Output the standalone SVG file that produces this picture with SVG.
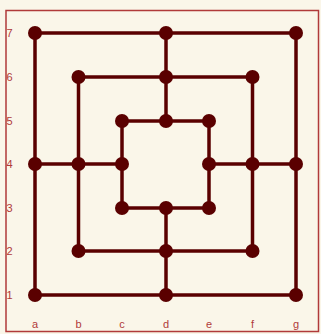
<svg xmlns="http://www.w3.org/2000/svg" width="321" height="334" viewBox="0 0 321 334">
<style>
.ln{stroke:#5a0000;stroke-width:3.5;fill:none}
.pt{fill:#5a0000}
.lb{font-family:"Liberation Sans",Arial,sans-serif;font-size:11px;fill:#b03a3a}
</style>
<rect x="0" y="0" width="321" height="334" fill="#faf6e9"/>
<rect x="6" y="10.5" width="312.5" height="321" fill="#faf6e9" stroke="#b03a3a" stroke-width="1.5"/>
<g id="connectors">
<rect class="ln" x="35" y="33" width="261" height="262"/>
<rect class="ln" x="78.5" y="77" width="174" height="174"/>
<rect class="ln" x="122" y="121" width="87" height="87"/>
<line class="ln" x1="166" y1="33" x2="166" y2="121"/>
<line class="ln" x1="166" y1="208" x2="166" y2="295"/>
<line class="ln" x1="35" y1="164" x2="122" y2="164"/>
<line class="ln" x1="209" y1="164" x2="296" y2="164"/>
</g>
<g id="nodes">
<g id="a7"><circle class="pt" cx="35" cy="33" r="7"/></g>
<g id="d7"><circle class="pt" cx="166" cy="33" r="7"/></g>
<g id="g7"><circle class="pt" cx="296" cy="33" r="7"/></g>
<g id="b6"><circle class="pt" cx="78.5" cy="77" r="7"/></g>
<g id="d6"><circle class="pt" cx="166" cy="77" r="7"/></g>
<g id="f6"><circle class="pt" cx="252.5" cy="77" r="7"/></g>
<g id="c5"><circle class="pt" cx="122" cy="121" r="7"/></g>
<g id="d5"><circle class="pt" cx="166" cy="121" r="7"/></g>
<g id="e5"><circle class="pt" cx="209" cy="121" r="7"/></g>
<g id="a4"><circle class="pt" cx="35" cy="164" r="7"/></g>
<g id="b4"><circle class="pt" cx="78.5" cy="164" r="7"/></g>
<g id="c4"><circle class="pt" cx="122" cy="164" r="7"/></g>
<g id="e4"><circle class="pt" cx="209" cy="164" r="7"/></g>
<g id="f4"><circle class="pt" cx="252.5" cy="164" r="7"/></g>
<g id="g4"><circle class="pt" cx="296" cy="164" r="7"/></g>
<g id="c3"><circle class="pt" cx="122" cy="208" r="7"/></g>
<g id="d3"><circle class="pt" cx="166" cy="208" r="7"/></g>
<g id="e3"><circle class="pt" cx="209" cy="208" r="7"/></g>
<g id="b2"><circle class="pt" cx="78.5" cy="251" r="7"/></g>
<g id="d2"><circle class="pt" cx="166" cy="251" r="7"/></g>
<g id="f2"><circle class="pt" cx="252.5" cy="251" r="7"/></g>
<g id="a1"><circle class="pt" cx="35" cy="295" r="7"/></g>
<g id="d1"><circle class="pt" cx="166" cy="295" r="7"/></g>
<g id="g1"><circle class="pt" cx="296" cy="295" r="7"/></g>
</g>
<g id="labels">
<text class="lb" x="6.5" y="37">7</text>
<text class="lb" x="6.5" y="81">6</text>
<text class="lb" x="6.5" y="125">5</text>
<text class="lb" x="6.5" y="168">4</text>
<text class="lb" x="6.5" y="212">3</text>
<text class="lb" x="6.5" y="255">2</text>
<text class="lb" x="6.5" y="299">1</text>
<text class="lb" x="35" y="328" text-anchor="middle">a</text>
<text class="lb" x="78.5" y="328" text-anchor="middle">b</text>
<text class="lb" x="122" y="328" text-anchor="middle">c</text>
<text class="lb" x="166" y="328" text-anchor="middle">d</text>
<text class="lb" x="209" y="328" text-anchor="middle">e</text>
<text class="lb" x="252.5" y="328" text-anchor="middle">f</text>
<text class="lb" x="296" y="328" text-anchor="middle">g</text>
</g>
</svg>
